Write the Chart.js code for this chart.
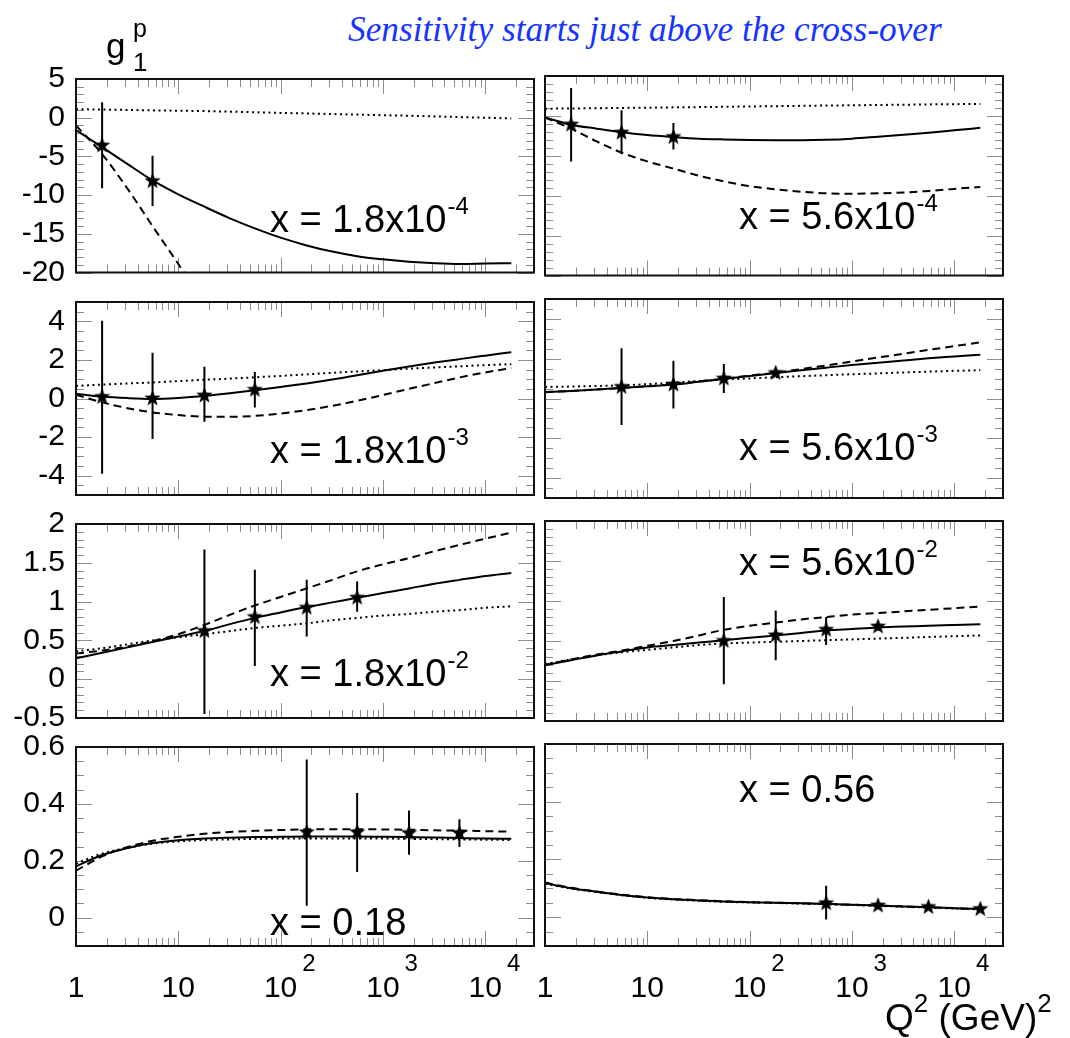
<!DOCTYPE html>
<html>
<head>
<meta charset="utf-8">
<script src="https://cdn.jsdelivr.net/npm/chart.js@4.4.0/dist/chart.umd.min.js"></script>
<style>
  html, body { margin: 0; padding: 0; background: #fff; }
  #page { position: relative; width: 1070px; height: 1038px; overflow: hidden;
          font-family: "Liberation Sans", Arial, sans-serif; }
  .panel { position: absolute; }
  .lbl { position: absolute; white-space: nowrap; color: #000; }
  .sup { font-size: 26px; vertical-align: 18px; line-height: 0; }
  #title { position: absolute; white-space: nowrap; color: #1733ff;
           font-family: "Liberation Serif", serif; font-style: italic; }
</style>
</head>
<body>
<div id="page">
  <div id="title">Sensitivity starts just above the cross-over</div>
</div>
<script>
const Q2_GRID = [1, 1.8, 3.2, 5.6, 10, 18, 32, 56, 100, 180, 320, 560,
                 1000, 1800, 3200, 5600, 10000, 18000];

// x axis tick labels (decades)
const decadeValues = [1, 10, 100, 1000, 10000];
const decadeBase = ['1', '10', '10', '10', '10'];
const decadeExp = ['', '', '2', '3', '4'];

// y ranges and labelled ticks per row
const rowYMin = [-20, -5, -0.5, -0.1];
const rowYMax = [5, 5, 2, 0.6];
const rowYTicks = [
  [-20, -15, -10, -5, 0, 5],
  [-4, -2, 0, 2, 4],
  [-0.5, 0, 0.5, 1, 1.5, 2],
  [0, 0.2, 0.4, 0.6],
];
const rowYMinor = [1, 0.5, 0.1, 0.05];

// panel captions
const captionBase = ['x = 1.8x10', 'x = 5.6x10', 'x = 1.8x10', 'x = 5.6x10',
                     'x = 1.8x10', 'x = 5.6x10', 'x = 0.18', 'x = 0.56'];
const captionExp = ['-4', '-4', '-3', '-3', '-2', '-2', '', ''];

// x = 1.8e-4
const solid1  = [-1.6, -3.8, -6.0, -8.1, -9.9, -11.5, -13.0, -14.3, -15.5, -16.5, -17.3, -17.9,
                 -18.3, -18.6, -18.8, -18.9, -18.85, -18.8];
const dashed1 = [-1.0, -4.7, -9.2, -14.0, -18.9, -24.0, null, null, null, null, null, null,
                 null, null, null, null, null, null];
const dotted1 = [1.1, 1.05, 1.0, 0.95, 0.9, 0.85, 0.78, 0.7, 0.62, 0.55, 0.47, 0.4,
                 0.32, 0.25, 0.17, 0.08, 0.0, -0.1];
const ptQ1 = [1.8, 5.6];
const ptY1 = [-3.6, -8.2];
const ptLo1 = [-9.1, -11.4];
const ptHi1 = [2.0, -4.9];

// x = 5.6e-4
const solid2  = [-0.2, -1.1, -1.6, -2.05, -2.4, -2.65, -2.85, -2.95, -3.02, -3.05, -3.05, -3.0,
                 -2.85, -2.6, -2.35, -2.1, -1.8, -1.5];
const dashed2 = [-0.2, -1.6, -3.2, -4.6, -5.7, -6.6, -7.5, -8.2, -8.8, -9.2, -9.5, -9.7,
                 -9.75, -9.7, -9.6, -9.4, -9.15, -8.9];
const dotted2 = [0.9, 0.93, 0.96, 1.0, 1.03, 1.07, 1.1, 1.14, 1.18, 1.22, 1.26, 1.3,
                 1.33, 1.37, 1.4, 1.44, 1.47, 1.5];
const ptQ2 = [1.8, 5.6, 18];
const ptY2 = [-1.1, -2.1, -2.65];
const ptLo2 = [-5.7, -4.8, -4.2];
const ptHi2 = [3.5, 0.7, -0.9];

// x = 1.8e-3
const solid3  = [0.25, 0.1, 0.02, -0.02, 0.03, 0.13, 0.27, 0.43, 0.6, 0.78, 0.98, 1.2,
                 1.44, 1.66, 1.86, 2.04, 2.22, 2.4];
const dashed3 = [0.2, -0.2, -0.5, -0.72, -0.86, -0.94, -0.95, -0.9, -0.78, -0.6, -0.38, -0.12,
                 0.18, 0.5, 0.8, 1.09, 1.35, 1.58];
const dotted3 = [0.65, 0.72, 0.78, 0.83, 0.9, 0.97, 1.03, 1.1, 1.17, 1.25, 1.33, 1.4,
                 1.47, 1.55, 1.61, 1.67, 1.73, 1.78];
const ptQ3 = [1.8, 5.6, 18, 56];
const ptY3 = [0.08, 0.0, 0.15, 0.45];
const ptLo3 = [-3.9, -2.1, -1.2, -0.47];
const ptHi3 = [4.03, 2.37, 1.65, 1.37];

// x = 5.6e-3
const solid4  = [0.32, 0.38, 0.45, 0.53, 0.61, 0.7, 0.84, 0.98, 1.13, 1.28, 1.42, 1.55,
                 1.68, 1.8, 1.91, 2.02, 2.11, 2.2];
const dashed4 = [0.33, 0.38, 0.45, 0.53, 0.62, 0.72, 0.86, 1.0, 1.15, 1.3, 1.48, 1.66,
                 1.86, 2.06, 2.25, 2.44, 2.63, 2.82];
const dotted4 = [0.58, 0.6, 0.63, 0.66, 0.72, 0.8, 0.88, 0.95, 1.01, 1.07, 1.12, 1.17,
                 1.22, 1.26, 1.31, 1.35, 1.39, 1.42];
const ptQ4 = [5.6, 18, 56, 180];
const ptY4 = [0.58, 0.7, 1.0, 1.28];
const ptLo4 = [-1.33, -0.5, 0.28, 1.12];
const ptHi4 = [2.53, 1.9, 1.73, 1.45];

// x = 1.8e-2
const solid5  = [0.27, 0.34, 0.41, 0.48, 0.55, 0.62, 0.71, 0.79, 0.86, 0.93, 0.99, 1.05,
                 1.11, 1.17, 1.23, 1.28, 1.33, 1.37];
const dashed5 = [0.33, 0.37, 0.42, 0.49, 0.58, 0.7, 0.83, 0.95, 1.06, 1.17, 1.28, 1.39,
                 1.48, 1.56, 1.65, 1.73, 1.81, 1.89];
const dotted5 = [0.36, 0.4, 0.45, 0.5, 0.54, 0.58, 0.62, 0.66, 0.69, 0.72, 0.76, 0.79,
                 0.82, 0.84, 0.87, 0.89, 0.92, 0.94];
const ptQ5 = [18, 56, 180, 560];
const ptY5 = [0.62, 0.8, 0.92, 1.05];
const ptLo5 = [-0.45, 0.17, 0.55, 0.87];
const ptHi5 = [1.67, 1.41, 1.28, 1.26];

// x = 5.6e-2
const solid6  = [0.2, 0.26, 0.32, 0.37, 0.42, 0.45, 0.48, 0.51, 0.54, 0.57, 0.6, 0.63,
                 0.65, 0.67, 0.68, 0.69, 0.7, 0.71];
const dashed6 = [0.2, 0.27, 0.33, 0.38, 0.44, 0.5, 0.57, 0.64, 0.69, 0.73, 0.77, 0.8,
                 0.83, 0.85, 0.87, 0.89, 0.91, 0.93];
const dotted6 = [0.21, 0.27, 0.32, 0.36, 0.39, 0.42, 0.45, 0.47, 0.48, 0.49, 0.5, 0.51,
                 0.52, 0.53, 0.54, 0.55, 0.56, 0.57];
const ptQ6 = [56, 180, 560, 1800];
const ptY6 = [0.5, 0.57, 0.64, 0.68];
const ptLo6 = [-0.04, 0.26, 0.45, 0.63];
const ptHi6 = [1.05, 0.88, 0.8, 0.73];

// x = 0.18
const solid7  = [0.18, 0.22, 0.245, 0.262, 0.272, 0.278, 0.281, 0.283, 0.284, 0.285, 0.285, 0.285,
                 0.284, 0.283, 0.282, 0.28, 0.278, 0.277];
const dashed7 = [0.165, 0.215, 0.248, 0.27, 0.284, 0.295, 0.301, 0.305, 0.308, 0.31, 0.311, 0.311,
                 0.31, 0.309, 0.307, 0.306, 0.304, 0.302];
const dotted7 = [0.19, 0.225, 0.245, 0.26, 0.268, 0.273, 0.275, 0.277, 0.278, 0.278, 0.278, 0.278,
                 0.278, 0.277, 0.276, 0.275, 0.274, 0.273];
const ptQ7 = [180, 560, 1800, 5600];
const ptY7 = [0.3, 0.3, 0.297, 0.297];
const ptLo7 = [0.042, 0.16, 0.221, 0.248];
const ptHi7 = [0.556, 0.438, 0.377, 0.346];

// x = 0.56
const solid8  = [0.118, 0.1, 0.088, 0.077, 0.068, 0.062, 0.058, 0.054, 0.052, 0.05, 0.048, 0.046,
                 0.043, 0.04, 0.037, 0.034, 0.031, 0.028];
const dashed8 = [0.12, 0.102, 0.089, 0.078, 0.069, 0.063, 0.059, 0.055, 0.052, 0.05, 0.048, 0.046,
                 0.043, 0.04, 0.037, 0.034, 0.031, 0.028];
const dotted8 = [0.116, 0.099, 0.087, 0.076, 0.067, 0.061, 0.057, 0.053, 0.051, 0.049, 0.047, 0.045,
                 0.042, 0.039, 0.036, 0.033, 0.03, 0.027];
const ptQ8 = [560, 1800, 5600, 18000];
const ptY8 = [0.048, 0.04, 0.035, 0.028];
const ptLo8 = [-0.008, 0.03, 0.028, 0.022];
const ptHi8 = [0.109, 0.05, 0.042, 0.034];

const PANELS = [
  [solid1, dashed1, dotted1, ptQ1, ptY1, ptLo1, ptHi1],
  [solid2, dashed2, dotted2, ptQ2, ptY2, ptLo2, ptHi2],
  [solid3, dashed3, dotted3, ptQ3, ptY3, ptLo3, ptHi3],
  [solid4, dashed4, dotted4, ptQ4, ptY4, ptLo4, ptHi4],
  [solid5, dashed5, dotted5, ptQ5, ptY5, ptLo5, ptHi5],
  [solid6, dashed6, dotted6, ptQ6, ptY6, ptLo6, ptHi6],
  [solid7, dashed7, dotted7, ptQ7, ptY7, ptLo7, ptHi7],
  [solid8, dashed8, dotted8, ptQ8, ptY8, ptLo8, ptHi8],
];

// ---- layout (pixels) ----
const COL_LEFT = [76, 545];
const PLOT_W = 458;
const ROW_TOP = [75.5, 299, 521, 744];
const ROW_H = [199.5, 199, 200, 202];
const CAPTION_POS = [[194, 153], [194, 153], [194, 161], [194, 161],
                     [194, 162], [194, 54], [194, 188], [194, 58]];
const FONT = '"Liberation Sans", Arial, sans-serif';

const page = document.getElementById('page');

function makeStar(size) {
  const c = document.createElement('canvas');
  c.width = size; c.height = size;
  const g = c.getContext('2d');
  const r = size / 2, ri = r * 0.42;
  g.beginPath();
  for (let k = 0; k < 10; k++) {
    const a = -Math.PI / 2 + k * Math.PI / 5;
    const rr = k % 2 ? ri : r;
    g.lineTo(r + rr * Math.cos(a), r + rr * Math.sin(a));
  }
  g.closePath();
  g.fillStyle = '#000';
  g.fill();
  return c;
}
const STAR = makeStar(17);

function placeText(html, x, baseline, size, extra) {
  const d = document.createElement('div');
  d.className = 'lbl';
  d.innerHTML = html;
  d.style.left = x + 'px';
  d.style.fontSize = size + 'px';
  d.style.lineHeight = size + 'px';
  d.style.top = (baseline - 0.8465 * size) + 'px';
  if (extra) Object.assign(d.style, extra);
  page.appendChild(d);
  return d;
}

function isOn(v, step) {
  return Math.abs(v / step - Math.round(v / step)) < 1e-6;
}

function framePlugin(i) {
  const row = Math.floor(i / 2);
  return {
    id: 'rootFrame' + i,
    beforeDatasetsDraw(chart) {
      const {ctx, chartArea: a, scales: {x, y}} = chart;
      ctx.save();
      ctx.strokeStyle = '#8c8c8c';
      ctx.lineWidth = 1;
      ctx.beginPath();
      for (let e = 0; e <= 4; e++) {
        for (let m = 1; m <= 9; m++) {
          const v = m * Math.pow(10, e);
          if (v > x.max) break;
          const px = Math.round(x.getPixelForValue(v)) + 0.5;
          const len = m === 1 ? 15 : 8;
          ctx.moveTo(px, a.top); ctx.lineTo(px, a.top + len);
          ctx.moveTo(px, a.bottom); ctx.lineTo(px, a.bottom - len);
        }
      }
      const ticks = rowYTicks[row];
      const major = ticks[1] - ticks[0];
      const step = rowYMinor[row];
      const n = Math.round((rowYMax[row] - rowYMin[row]) / step);
      for (let k = 0; k <= n; k++) {
        const v = rowYMin[row] + k * step;
        const py = Math.round(y.getPixelForValue(v)) + 0.5;
        const len = isOn(v, major) ? 16 : 8;
        ctx.moveTo(a.left, py); ctx.lineTo(a.left + len, py);
        ctx.moveTo(a.right, py); ctx.lineTo(a.right - len, py);
      }
      ctx.stroke();
      ctx.restore();
    },
    afterDatasetsDraw(chart) {
      const {ctx, chartArea: a, scales: {x}} = chart;
      ctx.save();
      ctx.strokeStyle = '#111';
      ctx.lineWidth = 2;
      ctx.strokeRect(a.left, a.top, a.right - a.left, a.bottom - a.top);
      // caption
      ctx.fillStyle = '#000';
      ctx.textBaseline = 'alphabetic';
      ctx.textAlign = 'left';
      ctx.font = '38px ' + FONT;
      const cx = a.left + CAPTION_POS[i][0], cy = a.top + CAPTION_POS[i][1];
      ctx.fillText(captionBase[i], cx, cy);
      if (captionExp[i]) {
        const w = ctx.measureText(captionBase[i]).width;
        ctx.font = '24px ' + FONT;
        ctx.fillText(captionExp[i], cx + w + 1, cy - 18);
      }
      // x tick labels on the bottom row
      if (row === 3) {
        const by = a.bottom + 51;
        decadeValues.forEach((v, k) => {
          const px = x.getPixelForValue(v);
          ctx.font = '30px ' + FONT;
          const w = ctx.measureText(decadeBase[k]).width;
          ctx.textAlign = 'center';
          ctx.fillText(decadeBase[k], px, by);
          if (decadeExp[k]) {
            ctx.textAlign = 'left';
            ctx.font = '24px ' + FONT;
            ctx.fillText(decadeExp[k], px + w / 2 + 5, by - 26);
          }
        });
      }
      ctx.restore();
    }
  };
}

function curve(vals, dash, order) {
  return {
    data: Q2_GRID.map((q, k) => ({x: q, y: vals[k]})),
    borderColor: '#000', borderWidth: 2, borderDash: dash,
    pointRadius: 0, cubicInterpolationMode: 'monotone', spanGaps: false, order: order
  };
}

function errorBars(q, lo, hi) {
  const out = [];
  q.forEach((v, k) => { out.push({x: v, y: lo[k]}, {x: v, y: hi[k]}, {x: v, y: null}); });
  return out;
}

function makeChart(i) {
  const row = Math.floor(i / 2), col = i % 2;
  const [solid, dashed, dotted, q, yv, lo, hi] = PANELS[i];
  const padTop = 26, padBot = row === 3 ? 70 : 26, side = 16;
  const wrap = document.createElement('div');
  wrap.className = 'panel';
  const left = col === 0 ? 0 : COL_LEFT[1] - side;
  const width = col === 0 ? COL_LEFT[0] + PLOT_W + side : PLOT_W + 2 * side;
  wrap.style.left = left + 'px';
  wrap.style.top = (ROW_TOP[row] - padTop) + 'px';
  wrap.style.width = width + 'px';
  wrap.style.height = (ROW_H[row] + padTop + padBot) + 'px';
  const cv = document.createElement('canvas');
  wrap.appendChild(cv);
  page.appendChild(wrap);

  const yScale = {
    type: 'linear', min: rowYMin[row], max: rowYMax[row], display: col === 0,
    position: 'left',
    grid: {display: false, drawTicks: false},
    border: {display: false},
    afterBuildTicks: s => { s.ticks = rowYTicks[row].map(v => ({value: v})); },
    ticks: {
      padding: 11, color: '#000', autoSkip: false,
      font: {family: FONT, size: 30},
      callback: v => String(Math.round(v * 100) / 100)
    }
  };
  if (col === 0) yScale.afterFit = s => { s.width = COL_LEFT[0]; };

  new Chart(cv, {
    type: 'line',
    data: {
      datasets: [
        {data: q.map((v, k) => ({x: v, y: yv[k]})), showLine: false,
         pointStyle: STAR, pointRadius: 8, order: 0},
        {data: errorBars(q, lo, hi), borderColor: '#000', borderWidth: 2,
         pointRadius: 0, spanGaps: false, order: 1},
        curve(solid, [], 2),
        curve(dashed, [8, 5], 3),
        curve(dotted, [2, 3.5], 4),
      ]
    },
    options: {
      responsive: true, maintainAspectRatio: false, animation: false, events: [],
      layout: {padding: {top: padTop, bottom: padBot, left: col === 0 ? 0 : side, right: side}},
      plugins: {legend: {display: false}, tooltip: {enabled: false}},
      scales: {
        x: {type: 'logarithmic', min: 1, max: 30000, display: false},
        y: yScale
      }
    },
    plugins: [framePlugin(i)]
  });
}

for (let i = 0; i < 8; i++) makeChart(i);

// g1^p label and axis title
placeText('g', 106, 58, 35);
placeText('p', 133, 37, 25);
placeText('1', 133, 71.5, 26);
placeText('Q<span class="sup">2</span> (GeV)<span class="sup">2</span>', 885, 1030, 37);

// title in blue, fitted to its width in the picture
const title = document.getElementById('title');
title.style.fontSize = '36px';
const tw = title.getBoundingClientRect().width;
const fs = 36 * 594 / tw;
title.style.fontSize = fs + 'px';
title.style.lineHeight = fs + 'px';
title.style.left = '348px';
title.style.top = (42 - 0.8375 * fs) + 'px';
</script>
</body>
</html>
